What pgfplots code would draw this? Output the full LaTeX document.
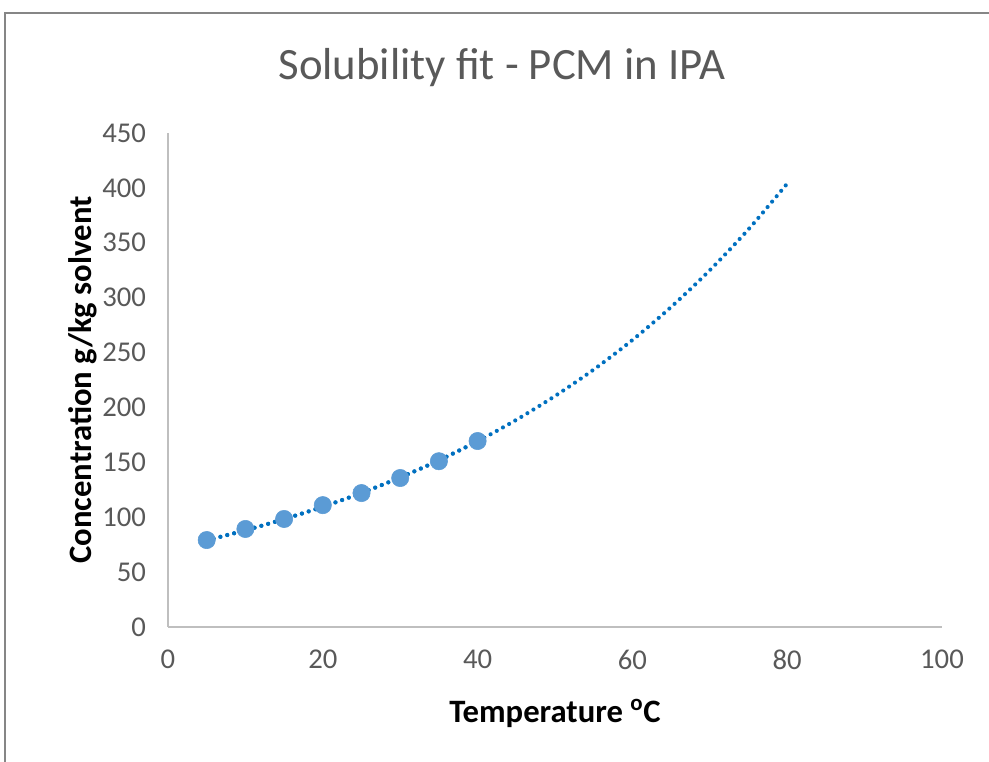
\documentclass[border=0pt]{standalone}
\usepackage{pgfplots}
\pgfplotsset{compat=1.18}
\usepackage{fontspec}
\setmainfont{Carlito}
\definecolor{ticktxt}{RGB}{89,89,89}
\definecolor{axln}{RGB}{191,191,191}
\definecolor{mkblue}{RGB}{91,155,213}
\definecolor{trblue}{RGB}{0,112,192}
\definecolor{frame}{RGB}{134,134,134}
\begin{document}
\begin{tikzpicture}
\useasboundingbox (0pt,0pt) rectangle (741.75pt,571.5pt);
\fill[white] (0pt,0pt) rectangle (741.75pt,571.5pt);
\draw[frame, line width=1.1pt] (3.75pt,-2pt) -- (3.75pt,561.75pt) -- (745pt,561.75pt);
\begin{axis}[
  at={(126pt,101.25pt)}, anchor=south west,
  scale only axis, width=580.5pt, height=370.5pt,
  xmin=0, xmax=100, ymin=0, ymax=450,
  xtick={0,20,...,100}, ytick={0,50,...,450},
  axis x line*=bottom, axis y line*=left,
  axis line style={axln, line width=1.5pt, -},
  major tick length=0pt,
  tick label style={font=\fontsize{21.5}{24}\selectfont, text=ticktxt},
  /pgf/number format/assume math mode=true,
  yticklabel style={xshift=-13pt},
  xticklabel style={yshift=-14pt},
  clip=false,
]
\addplot[trblue, line width=3.1pt, dash pattern=on 0pt off 5.3pt, line cap=round, smooth] coordinates {
(5,79.0) (10,88.1) (15,98.3) (20,109.5) (25,122.1) (30,136.2) (35,151.8) (40,169.2)
(45,188.7) (50,210.4) (55,234.5) (60,261.4) (65,291.5) (70,325.0) (75,362.3) (80,403.9)};
\addplot[mkblue, only marks, mark=*, mark size=6.5pt, mark options={draw=mkblue, fill=mkblue}] coordinates {
(5,79.2) (10,89.3) (15,98.4) (20,111) (25,122) (30,135.7) (35,151) (40,169.4)};
\addplot[trblue, line width=3.1pt, dash pattern=on 0pt off 5.3pt, line cap=round, smooth] coordinates {
(5,79.0) (10,88.1) (15,98.3) (20,109.5) (25,122.1) (30,136.2) (35,151.8) (40,169.2)};
\end{axis}
\node[text=ticktxt, font=\fontsize{33.6}{38}\selectfont] at (376.5pt,520.5pt) {Solubility fit - PCM in IPA};
\node[font=\fontsize{24.5}{28}\selectfont\bfseries] at (416.25pt,36.75pt) {Temperature \textsuperscript{o}C};
\node[font=\fontsize{24.5}{28}\selectfont\bfseries, rotate=90] at (62.25pt,286.5pt) {Concentration g/kg solvent};
\end{tikzpicture}
\end{document}
